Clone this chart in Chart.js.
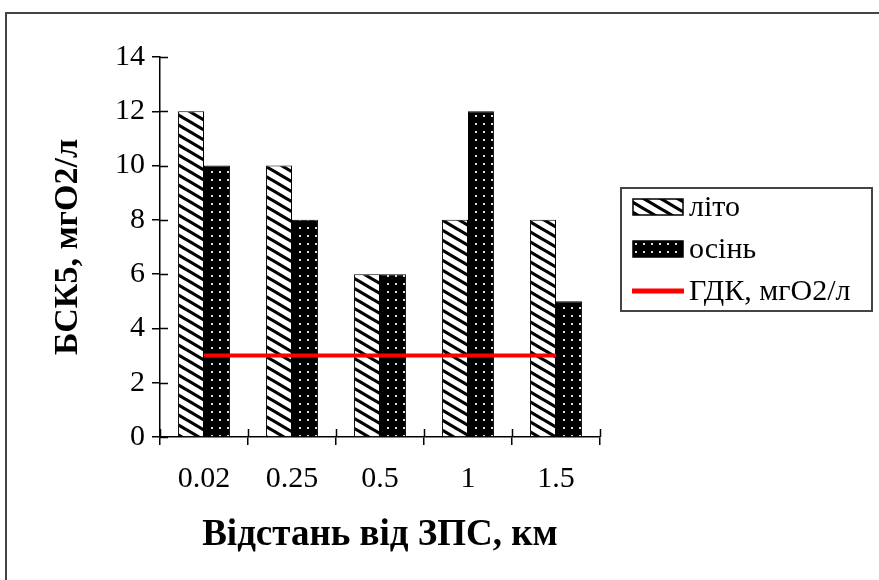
<!DOCTYPE html>
<html>
<head>
<meta charset="utf-8">
<script src="https://cdn.jsdelivr.net/npm/chart.js@4.4.1/dist/chart.umd.min.js"></script>
<style>
  html, body { margin: 0; padding: 0; background: #fff; }
  #wrap { width: 879px; height: 580px; position: relative; }
</style>
</head>
<body>
<div id="wrap"><canvas id="c" width="879" height="580"></canvas></div>
<script>
// ---- data ----
const categories = ['0.02', '0.25', '0.5', '1', '1.5'];
const summerValues = [12, 10, 6, 8, 8];
const autumnValues = [10, 8, 6, 12, 5];
const limitValues = [3, 3, 3, 3, 3];
const seriesNames = ['літо', 'осінь', 'ГДК, мгО2/л'];
const yTicks = [0, 2, 4, 6, 8, 10, 12, 14];
const xTitle = 'Відстань від ЗПС, км';
const yTitle = 'БСК5, мгО2/л';

const FONT = "'Liberation Serif', 'Times New Roman', serif";
const canvas = document.getElementById('c');
const ctx = canvas.getContext('2d');

function stripePattern() {
  const W = 17, H = 10;
  const c = document.createElement('canvas');
  c.width = W; c.height = H;
  const g = c.getContext('2d');
  g.fillStyle = '#fff'; g.fillRect(0, 0, W, H);
  g.strokeStyle = '#000'; g.lineWidth = 3.2;
  g.beginPath();
  for (let k = -2; k <= 2; k++) {
    g.moveTo(-W, k * H - H);
    g.lineTo(2 * W, k * H + 2 * H);
  }
  g.stroke();
  return ctx.createPattern(c, 'repeat');
}
function dotPattern() {
  const c = document.createElement('canvas');
  c.width = 8; c.height = 8;
  const g = c.getContext('2d');
  g.fillStyle = '#000'; g.fillRect(0, 0, 8, 8);
  g.fillStyle = '#e0e0e0'; g.fillRect(3, 3, 2, 2);
  return ctx.createPattern(c, 'repeat');
}
const stripes = stripePattern();
const dots = dotPattern();

const frameAndLegend = {
  id: 'frameAndLegend',
  beforeDraw(chart) {
    const g = chart.ctx;
    g.save();
    g.fillStyle = '#fff';
    g.fillRect(0, 0, chart.width, chart.height);
    g.strokeStyle = '#444';
    g.lineWidth = 2;
    g.strokeRect(6, 13, 1000, 1000);
    g.restore();
  },
  afterDraw(chart) {
    const g = chart.ctx;
    const xs = chart.scales.x, ys = chart.scales.y;
    g.save();
    // inner half of crossing tick marks
    g.strokeStyle = '#000';
    g.lineWidth = 1.5;
    g.beginPath();
    yTicks.forEach(v => {
      const y = Math.round(ys.getPixelForValue(v)) + 0.5;
      g.moveTo(xs.left, y); g.lineTo(xs.left + 8, y);
    });
    const n = categories.length;
    for (let i = 0; i <= n; i++) {
      const x = Math.round(xs.left + (xs.right - xs.left) * i / n) + 0.5;
      g.moveTo(x, ys.bottom); g.lineTo(x, ys.bottom - 8);
    }
    g.stroke();

    // legend box
    const bx = 621, by = 188, bw = 251, bh = 123;
    g.strokeStyle = '#444';
    g.lineWidth = 2;
    g.strokeRect(bx, by, bw, bh);
    const rows = [207, 249, 291];
    const ds = chart.data.datasets;
    g.font = '30px ' + FONT;
    g.fillStyle = '#000';
    g.textBaseline = 'middle';
    g.textAlign = 'left';
    for (let i = 0; i < 3; i++) {
      const y = rows[i];
      if (ds[i].type === 'line') {
        g.strokeStyle = ds[i].borderColor;
        g.lineWidth = 5;
        g.beginPath(); g.moveTo(632, y); g.lineTo(684, y); g.stroke();
      } else {
        g.fillStyle = ds[i].backgroundColor;
        g.fillRect(633, y - 8, 50, 16);
        g.strokeStyle = '#000';
        g.lineWidth = 1.5;
        g.strokeRect(633, y - 8, 50, 16);
      }
      g.fillStyle = '#000';
      g.fillText(ds[i].label, 689, y + 1);
    }
    g.restore();
  }
};

new Chart(canvas, {
  type: 'bar',
  data: {
    labels: categories,
    datasets: [
      { type: 'bar', label: seriesNames[0], data: summerValues, backgroundColor: stripes,
        borderColor: '#000', borderWidth: 1, order: 2 },
      { type: 'bar', label: seriesNames[1], data: autumnValues, backgroundColor: dots,
        borderColor: '#000', borderWidth: 1, order: 2 },
      { type: 'line', label: seriesNames[2], data: limitValues, borderColor: '#ff0000',
        backgroundColor: '#ff0000', borderWidth: 4, pointRadius: 0, fill: false, order: 0 }
    ]
  },
  options: {
    responsive: false,
    animation: false,
    events: [],
    layout: { padding: { top: 57, right: 279, bottom: 0, left: 0 } },
    datasets: { bar: { categoryPercentage: 0.59, barPercentage: 1.0 } },
    plugins: { legend: { display: false }, tooltip: { enabled: false } },
    scales: {
      x: {
        offset: true,
        grid: { display: true, drawOnChartArea: false, drawTicks: true, tickLength: 8,
                color: '#000', lineWidth: 1.5, offset: true },
        border: { display: true, color: '#000', width: 1.5 },
        ticks: { color: '#000', font: { family: FONT, size: 30 }, padding: 16, maxRotation: 0 },
        title: { display: true, text: xTitle, color: '#000',
                 font: { family: FONT, size: 37, weight: 'bold' }, padding: { top: 0, bottom: 22 } },
        afterFit(scale) { scale.height = 143; }
      },
      y: {
        min: 0, max: 14,
        afterBuildTicks(scale) { scale.ticks = yTicks.map(v => ({ value: v })); },
        grid: { display: true, drawOnChartArea: false, drawTicks: true, tickLength: 8,
                color: '#000', lineWidth: 1.5 },
        border: { display: true, color: '#000', width: 1.5 },
        ticks: { color: '#000', font: { family: FONT, size: 30 }, padding: 7 },
        title: { display: true, text: yTitle, color: '#000',
                 font: { family: FONT, size: 34, weight: 'bold' }, padding: { top: 48, bottom: 0 } },
        afterFit(scale) { scale.width = 160; }
      }
    }
  },
  plugins: [frameAndLegend]
});
</script>
</body>
</html>
